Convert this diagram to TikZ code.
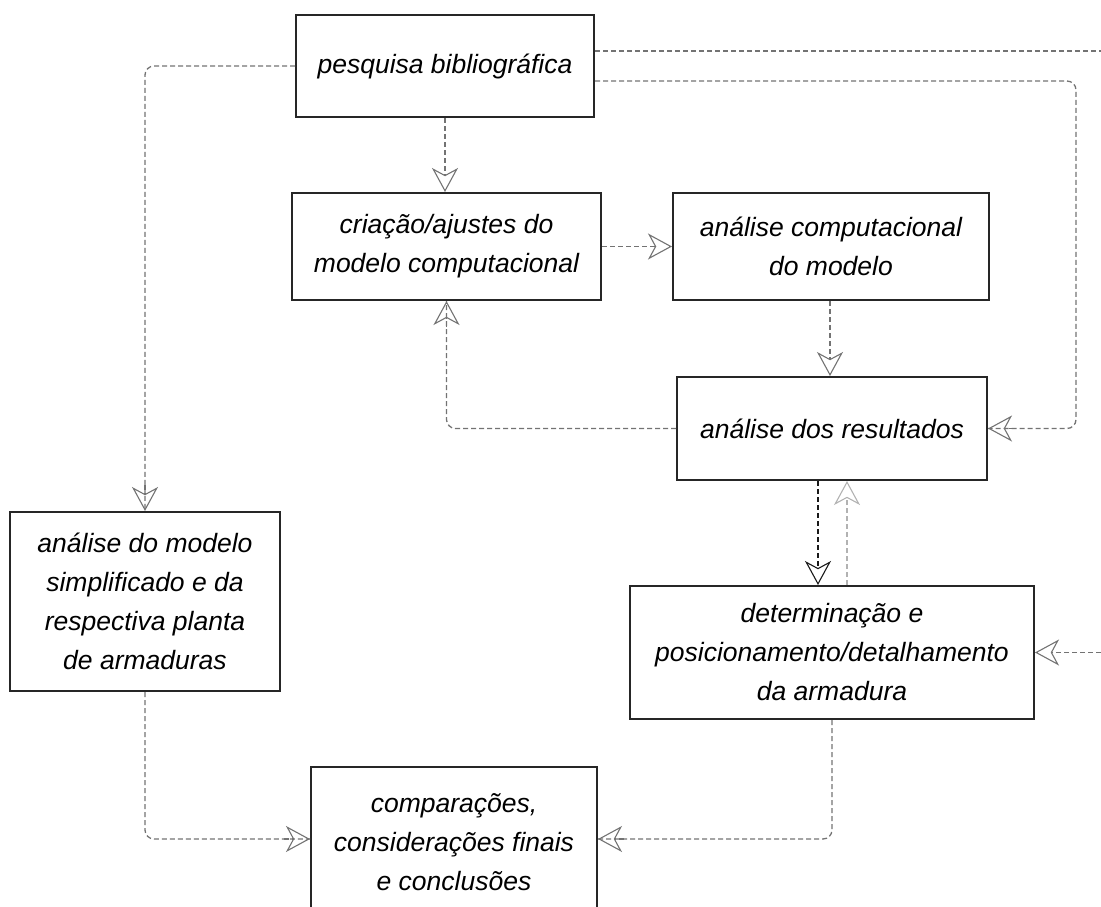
\documentclass[tikz,border=0pt]{standalone}
\usepackage{fontspec}
\setmainfont{Liberation Sans}
\usetikzlibrary{arrows.meta,calc}
\begin{document}
\begin{tikzpicture}[x=1pt,y=-1pt,
  box/.style={draw=black!85,line width=2pt,fill=white,align=center,inner sep=0pt,
    font=\fontsize{26.5}{39}\selectfont\itshape},
  line/.style={draw=black!55,line width=1.3pt,dash pattern=on 5pt off 3pt},
  conn/.style={line,-{Stealth[open,length=24pt,width=26pt,inset=7pt,line width=1.1pt]}},
  rc/.style={line,rounded corners=9pt},
  connb/.style={conn,draw=black!90},
  connl/.style={conn,draw=black!30}]
\useasboundingbox (0,0) rectangle (1101,907);
\begin{scope}
\clip (0,0) rectangle (1101,907);
\node[box,minimum width=298pt,minimum height=102pt] (pb) at (445,66) {pesquisa bibliográfica};
\node[box,minimum width=309pt,minimum height=107pt] (cr) at (446.5,246.5) {criação/ajustes do\\modelo computacional};
\node[box,minimum width=316pt,minimum height=107pt] (ac) at (831,246.5) {análise computacional\\do modelo};
\node[box,minimum width=310pt,minimum height=103pt] (ar) at (832,428.5) {análise dos resultados};
\node[box,minimum width=270pt,minimum height=179pt] (am) at (145,601.5) {análise do modelo\\simplificado e da\\respectiva planta\\de armaduras};
\node[box,minimum width=404pt,minimum height=133pt] (dt) at (832,652.5) {determinação e\\posicionamento/detalhamento\\da armadura};
\node[box,minimum width=286pt,minimum height=150pt] (cp) at (454,842) {comparações,\\considerações finais\\e conclusões};

\coordinate (e1) at (1101,51);
\coordinate (e2) at (1101,652.5);
\coordinate (r1) at (1076,81);
\coordinate (a1) at ([yshift=3pt]cp.west);
\coordinate (a2) at ([yshift=3pt]cp.east);

\draw[conn] (pb.south) -- (pb.south |- cr.north);
\draw[conn] (cr.east) -- (ac.west);
\draw[conn] ([xshift=-1pt]ac.south) -- ([xshift=-1pt]ac.south |- ar.north);
% results -> creation
\draw[rc] (ar.west) -| (cr.south);
\draw[conn] ([yshift=-26pt]cr.south) -- (cr.south);
% bibliography -> results
\draw[rc] (pb.east |- r1) -- (r1) -- (r1 |- ar.east) -- (ar.east);
\draw[conn] ([xshift=26pt]ar.east) -- (ar.east);
% bibliography -> off picture
\draw[line] (pb.east |- e1) -- (e1);
% bibliography -> simplified model
\draw[rc] (pb.west) -| (am.north);
\draw[conn] ([yshift=26pt]am.north) -- (am.north);
\draw[connb] ([xshift=-14pt]ar.south) -- ([xshift=-14pt]ar.south |- dt.north);
\draw[connl] ([xshift=15pt]dt.north) -- ([xshift=15pt]dt.north |- ar.south);
\draw[conn] (e2) -- (dt.east);
\draw[rc] (am.south) |- (a1);
\draw[conn] ([xshift=-26pt]a1) -- (a1);
\draw[rc] (dt.south) |- (a2);
\draw[conn] ([xshift=26pt]a2) -- (a2);
\end{scope}
\end{tikzpicture}
\end{document}
